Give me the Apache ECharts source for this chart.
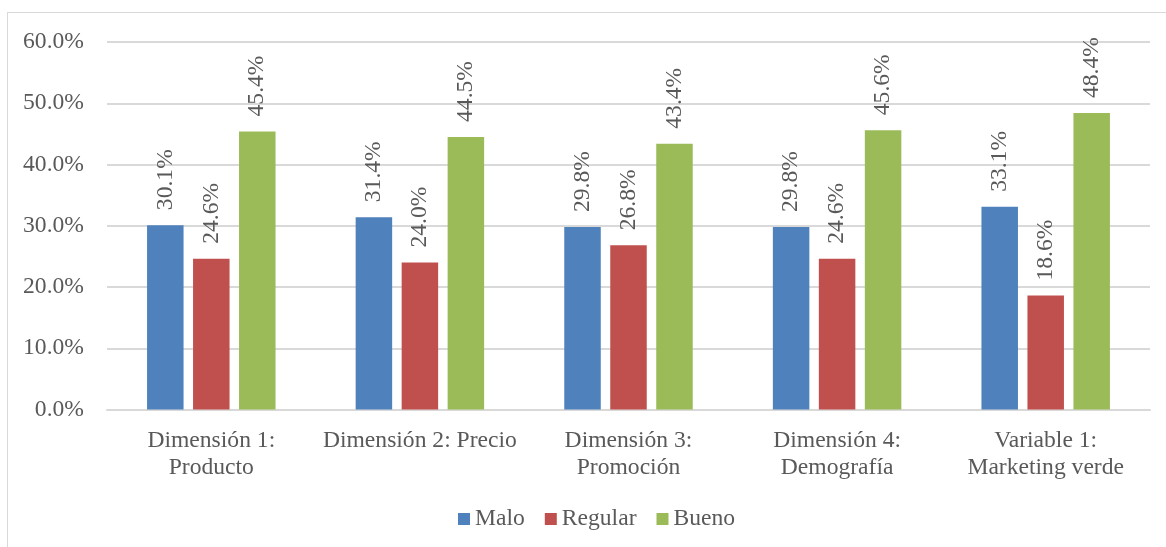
<!DOCTYPE html>
<html>
<head>
<meta charset="utf-8">
<script src="https://cdn.jsdelivr.net/npm/echarts@6/dist/echarts.min.js"></script>
<style>
  html, body { margin: 0; padding: 0; background: #fff; }
  #frame { position: absolute; left: 7px; top: 12px; width: 1170px; height: 545px; border: 1px solid #d9d9d9; box-sizing: border-box; }
  #chart { width: 1166px; height: 547px; position: absolute; left: 0; top: 0; }
</style>
</head>
<body>
<div id="frame"></div>
<div id="chart"></div>
<script>
// Percentage of responses per level, for each dimension
const categories = [
  'Dimensión 1:\nProducto',
  'Dimensión 2: Precio',
  'Dimensión 3:\nPromoción',
  'Dimensión 4:\nDemografía',
  'Variable 1:\nMarketing verde'
];
const malo    = [30.1, 31.4, 29.8, 29.8, 33.1];
const regular = [24.6, 24.0, 26.8, 24.6, 18.6];
const bueno   = [45.4, 44.5, 43.4, 45.6, 48.4];
const seriesNames = ['Malo', 'Regular', 'Bueno'];
const colors = ['#4f81bd', '#c0504d', '#9bbb59'];

const FONT = '"Liberation Serif", "Times New Roman", serif';
const TEXT = '#595959';
const SIZE = 23.6;

const chart = echarts.init(document.getElementById('chart'), null, { renderer: 'canvas' });

function barSeries(name, data, color) {
  return {
    name: name,
    type: 'bar',
    data: data,
    barWidth: 36.5,
    barGap: '26%',
    itemStyle: { color: color },
    label: {
      show: true,
      position: 'top',
      distance: 15,
      rotate: 90,
      align: 'left',
      verticalAlign: 'middle',
      formatter: p => p.value.toFixed(1) + '%',
      fontFamily: FONT,
      fontSize: SIZE,
      color: TEXT
    }
  };
}

chart.setOption({
  animation: false,
  color: colors,
  textStyle: { fontFamily: FONT },
  grid: { left: 107, right: 16, top: 42, bottom: 137.5, containLabel: false },
  legend: {
    bottom: 16,
    left: 458,
    padding: 0,
    itemWidth: 12,
    itemHeight: 12,
    itemGap: 20,
    icon: 'rect',
    textStyle: { fontFamily: FONT, fontSize: SIZE, color: TEXT },
    data: seriesNames
  },
  xAxis: {
    type: 'category',
    data: categories,
    axisLine: { show: true, lineStyle: { color: '#d9d9d9', width: 2 } },
    axisTick: { show: false },
    axisLabel: {
      interval: 0,
      margin: 18,
      fontFamily: FONT,
      fontSize: SIZE,
      lineHeight: 27,
      color: TEXT
    }
  },
  yAxis: {
    type: 'value',
    min: 0,
    max: 60,
    interval: 10,
    axisLine: { show: false },
    axisTick: { show: false },
    splitLine: { lineStyle: { color: '#d9d9d9', width: 2 } },
    axisLabel: {
      margin: 23,
      formatter: v => v.toFixed(1) + '%',
      fontFamily: FONT,
      fontSize: SIZE,
      color: TEXT
    }
  },
  series: [
    barSeries(seriesNames[0], malo, colors[0]),
    barSeries(seriesNames[1], regular, colors[1]),
    barSeries(seriesNames[2], bueno, colors[2])
  ]
});
</script>
</body>
</html>
